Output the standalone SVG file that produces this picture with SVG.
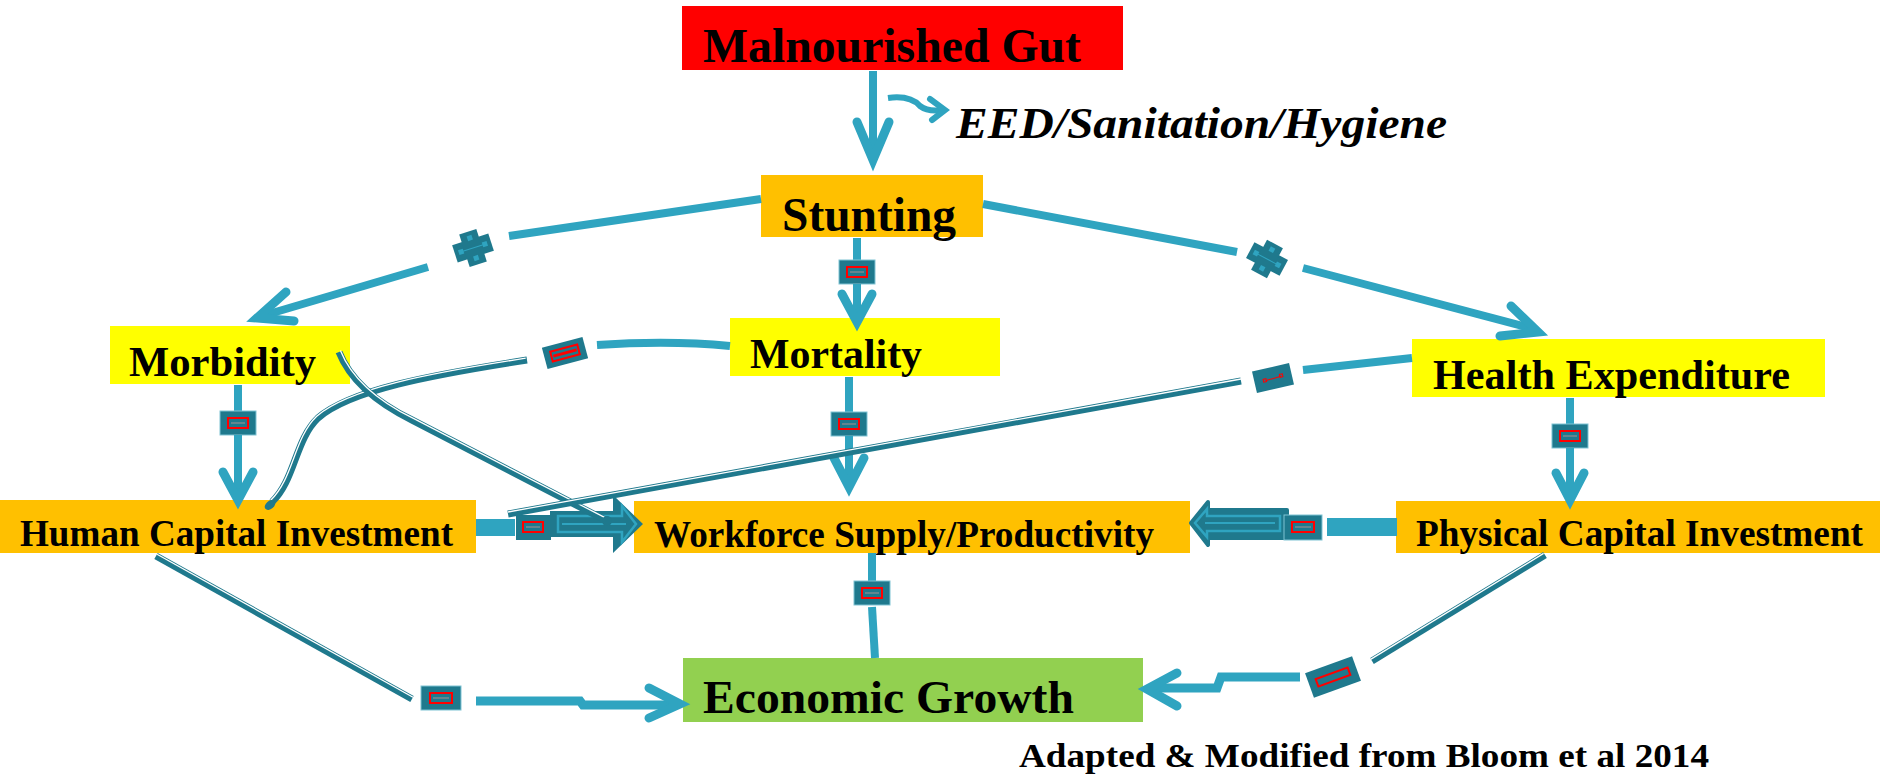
<svg xmlns="http://www.w3.org/2000/svg" xmlns:xlink="http://www.w3.org/1999/xlink" width="1880" height="775" viewBox="0 0 1880 775">
<defs>
<style>
.lbl{font-family:"Liberation Serif","Times New Roman",serif;font-weight:bold;fill:#000;}
.ln{fill:none;stroke:#2FA4C0;stroke-width:8;}
.ah{fill:none;stroke:#2FA4C0;stroke-width:9;stroke-linecap:round;stroke-linejoin:miter;}
.dbl{fill:none;stroke:#1F798D;stroke-width:7;}
.dbw{fill:none;stroke:#fff;stroke-width:1.3;}
.dk{fill:#1F798D;}
</style>
<g id="mk">
<rect x="-18" y="-12" width="36" height="24" fill="#1F798D" stroke="#7FC3D3" stroke-width="1"/>
<rect x="-10" y="-5" width="20" height="10" fill="none" stroke="#FF0000" stroke-width="2"/>
<line x1="-7" y1="0" x2="7" y2="0" stroke="#7A8A90" stroke-width="1.5"/>
</g>
<g id="cross">
<rect x="-19" y="-9" width="38" height="18" fill="#1F798D"/>
<rect x="-9" y="-17" width="18" height="34" fill="#1F798D"/>
<line x1="-14" y1="0" x2="14" y2="0" stroke="#2FA4C0" stroke-width="1"/>
<rect x="-15" y="-2.5" width="5" height="5" fill="#2FA4C0"/>
<rect x="10" y="-2.5" width="5" height="5" fill="#2FA4C0"/>
<rect x="-2.5" y="-13" width="5" height="5" fill="#2FA4C0"/>
<rect x="-2.5" y="8" width="5" height="5" fill="#2FA4C0"/>
</g>
</defs>
<rect width="1880" height="775" fill="#fff"/>

<g id="node-malnourished">
<rect x="682" y="6" width="441" height="64" fill="#FF0000"/>
<text class="lbl" x="703" y="62" font-size="48" textLength="378" lengthAdjust="spacingAndGlyphs">Malnourished Gut</text>
</g>
<g id="node-eed">
<text class="lbl" x="956" y="138" font-size="45" font-style="italic" textLength="491" lengthAdjust="spacingAndGlyphs">EED/Sanitation/Hygiene</text>
</g>
<g id="node-stunting">
<rect x="761" y="175" width="222" height="62" fill="#FFC000"/>
<text class="lbl" x="782" y="231" font-size="48" textLength="174" lengthAdjust="spacingAndGlyphs">Stunting</text>
</g>
<g id="node-morbidity">
<rect x="110" y="326" width="240" height="58" fill="#FFFF00"/>
<text class="lbl" x="129" y="376" font-size="42" textLength="187" lengthAdjust="spacingAndGlyphs">Morbidity</text>
</g>
<g id="node-mortality">
<rect x="730" y="318" width="270" height="58" fill="#FFFF00"/>
<text class="lbl" x="750" y="368" font-size="42" textLength="172" lengthAdjust="spacingAndGlyphs">Mortality</text>
</g>
<g id="node-health">
<rect x="1412" y="339" width="413" height="58" fill="#FFFF00"/>
<text class="lbl" x="1433" y="389" font-size="42" textLength="357" lengthAdjust="spacingAndGlyphs">Health Expenditure</text>
</g>
<g id="node-human">
<rect x="0" y="500" width="476" height="53" fill="#FFC000"/>
<text class="lbl" x="20" y="546" font-size="37" textLength="433" lengthAdjust="spacingAndGlyphs">Human Capital Investment</text>
</g>
<g id="node-workforce">
<rect x="634" y="501" width="556" height="52" fill="#FFC000"/>
<text class="lbl" x="654" y="547" font-size="37" textLength="500" lengthAdjust="spacingAndGlyphs">Workforce Supply/Productivity</text>
</g>
<g id="node-physical">
<rect x="1396" y="501" width="484" height="52" fill="#FFC000"/>
<text class="lbl" x="1416" y="546" font-size="37" textLength="447" lengthAdjust="spacingAndGlyphs">Physical Capital Investment</text>
</g>
<g id="node-growth">
<rect x="683" y="658" width="460" height="64" fill="#92D050"/>
<text class="lbl" x="703" y="713" font-size="47" textLength="371" lengthAdjust="spacingAndGlyphs">Economic Growth</text>
</g>
<g id="node-source">
<text class="lbl" x="1019" y="767" font-size="34" textLength="690" lengthAdjust="spacingAndGlyphs">Adapted &amp; Modified from Bloom et al 2014</text>
</g>

<g id="connectors">
<!-- Malnourished -> Stunting -->
<path class="ln" d="M873,71 V158"/>
<path class="ah" d="M857,122 L873,160 L889,122"/>
<path d="M888,98 Q910,95 920,106 Q928,112 942,110" fill="none" stroke="#2FA4C0" stroke-width="6"/>
<path d="M930,99 L945,110 L932,120" fill="none" stroke="#2FA4C0" stroke-width="6" stroke-linecap="round"/>

<!-- Stunting -> Morbidity -->
<path class="ln" d="M761,199 L509,236"/>
<use xlink:href="#cross" href="#cross" transform="translate(473,248) rotate(-18)"/>
<path class="ln" d="M428,267 L262,316"/>
<path class="ah" d="M286,292 L257,318 L294,321"/>

<!-- Stunting -> Health Expenditure -->
<path class="ln" d="M983,204 L1237,252"/>
<use xlink:href="#cross" href="#cross" transform="translate(1267,259) rotate(28)"/>
<path class="ln" d="M1303,268 L1534,329"/>
<path class="ah" d="M1511,306 L1538,332 L1500,336"/>

<!-- Stunting -> Mortality -->
<path class="ln" d="M857,238 V260"/>
<use xlink:href="#mk" href="#mk" transform="translate(857,272)"/>
<path class="ln" d="M857,284 V320"/>
<path class="ah" d="M842,294 L857,322 L872,294"/>

<!-- Morbidity -> Human Capital -->
<path class="ln" d="M238,385 V411"/>
<use xlink:href="#mk" href="#mk" transform="translate(238,423)"/>
<path class="ln" d="M238,435 V497"/>
<path class="ah" d="M223,472 L238,500 L253,472"/>

<!-- Mortality -> Workforce -->
<path class="ln" d="M849,377 V412"/>
<use xlink:href="#mk" href="#mk" transform="translate(849,424)"/>
<path class="ln" d="M849,436 V485"/>
<path class="ah" d="M834,458 L849,487 L864,458"/>

<!-- Health -> Physical -->
<path class="ln" d="M1570,398 V424"/>
<use xlink:href="#mk" href="#mk" transform="translate(1570,436)"/>
<path class="ln" d="M1570,448 V498"/>
<path class="ah" d="M1556,473 L1570,500 L1584,473"/>

<!-- Workforce -> Economic Growth -->
<path class="ln" d="M872,553 V581"/>
<use xlink:href="#mk" href="#mk" transform="translate(872,593)"/>
<path class="ln" d="M872,607 L875,658"/>

<!-- Human Capital -> Workforce (block arrow) -->
<rect x="476" y="519" width="39" height="17" fill="#2FA4C0"/>
<path class="dk" d="M550,511 H613 V495 L643,524 L613,553 V537 H550 Z"/>
<path d="M558,516 H622 V506 L636,524 L622,542 V532 H558 Z" fill="none" stroke="#2FA4C0" stroke-width="2.5"/>
<path d="M562,524 H626" stroke="#2FA4C0" stroke-width="2"/>
<g transform="translate(533,527)">
<rect x="-17" y="-12" width="35" height="25" fill="#1F798D"/>
<rect x="-10" y="-5" width="20" height="10" fill="none" stroke="#FF0000" stroke-width="2"/>
<line x1="-7" y1="0" x2="7" y2="0" stroke="#7A8A90" stroke-width="1.5"/>
</g>

<!-- Physical -> Workforce (block arrow) -->
<rect x="1327" y="518" width="70" height="18" fill="#2FA4C0"/>
<path class="dk" d="M1287,510 H1208 V502 L1191,523 L1208,545 V538 H1287 Z" stroke="#1F798D" stroke-width="4" stroke-linejoin="round"/>
<path d="M1280,516 H1207 V509 L1195,523 L1207,537 V531 H1280 Z" fill="none" stroke="#2FA4C0" stroke-width="2.5"/>
<path d="M1205,523 H1275" stroke="#2FA4C0" stroke-width="2"/>
<g transform="translate(1303,527)">
<rect x="-19" y="-12" width="38" height="25" fill="#1F798D" stroke="#7FC3D3" stroke-width="1"/>
<rect x="-11" y="-5" width="22" height="10" fill="none" stroke="#FF0000" stroke-width="2"/>
<line x1="-8" y1="0" x2="8" y2="0" stroke="#7A8A90" stroke-width="1.5"/>
</g>

<!-- Mortality -> Human Capital -->
<path d="M730,346 C690,342 640,342 597,345" fill="none" stroke="#2FA4C0" stroke-width="8"/>
<g transform="translate(565,353) rotate(-15)">
<rect x="-21" y="-11" width="42" height="22" fill="#1F798D"/>
<rect x="-14" y="-5" width="28" height="10" fill="none" stroke="#FF0000" stroke-width="2"/>
<line x1="-12" y1="0" x2="12" y2="0" stroke="#FF0000" stroke-width="3"/>
</g>
<path class="dbl" d="M527,360 C430,375 350,390 318,418 C295,440 295,480 272,502"/>
<path class="dbw" transform="translate(-1.3,-1.8)" d="M527,360 C430,375 350,390 318,418 C295,440 295,480 272,502"/>
<ellipse cx="270" cy="505" rx="6" ry="4" fill="#1F798D" transform="rotate(-40 270 505)"/>

<!-- Morbidity -> Workforce -->
<path class="dbl" d="M339,352 Q355,392 412,420 L607,521"/>
<path class="dbw" transform="translate(1.4,-1.6)" d="M339,352 Q355,392 412,420 L607,521"/>
<circle cx="607" cy="521" r="5" fill="#1F798D"/>

<!-- Health -> Human Capital -->
<path d="M1412,358 L1303,370" fill="none" stroke="#2FA4C0" stroke-width="8"/>
<g transform="translate(1273,378) rotate(-13)">
<rect x="-19" y="-11" width="38" height="22" fill="#1F798D"/>
<line x1="-8" y1="1" x2="8" y2="0" stroke="#FF0000" stroke-width="1"/>
<rect x="-10" y="-1" width="3" height="3" fill="none" stroke="#FF0000" stroke-width="1"/>
<rect x="7" y="-2" width="3" height="3" fill="none" stroke="#FF0000" stroke-width="1"/>
</g>
<path class="dbl" d="M1241,381 L508,514"/>
<path class="dbw" transform="translate(0,-2)" d="M1241,381 L508,514"/>

<!-- Human Capital -> Economic Growth -->
<path class="dbl" d="M156,556 L412,699"/>
<path class="dbw" transform="translate(1,-1.8)" d="M156,556 L412,699"/>
<g transform="translate(441,698)">
<rect x="-20" y="-12" width="40" height="24" fill="#1F798D" stroke="#7FC3D3" stroke-width="1"/>
<rect x="-11" y="-5" width="22" height="10" fill="none" stroke="#FF0000" stroke-width="2"/>
<line x1="-8" y1="0" x2="8" y2="0" stroke="#7A8A90" stroke-width="1.5"/>
</g>
<path d="M476,701 H580 L583,705 H672" fill="none" stroke="#2FA4C0" stroke-width="9"/>
<path class="ah" d="M649,688 L680,704 L649,718"/>

<!-- Physical -> Economic Growth -->
<path class="dbl" d="M1545,555 L1372,661"/>
<path class="dbw" transform="translate(-1.4,-1.6)" d="M1545,555 L1372,661"/>
<g transform="translate(1333,677) rotate(-20)">
<rect x="-25" y="-13" width="50" height="26" fill="#1F798D"/>
<rect x="-17" y="-4" width="34" height="8" fill="none" stroke="#FF0000" stroke-width="2"/>
</g>
<path d="M1300,677 H1221 L1217,688 H1150" fill="none" stroke="#2FA4C0" stroke-width="9"/>
<path class="ah" d="M1177,673 L1147,689 L1177,706"/>
</g>
</svg>
